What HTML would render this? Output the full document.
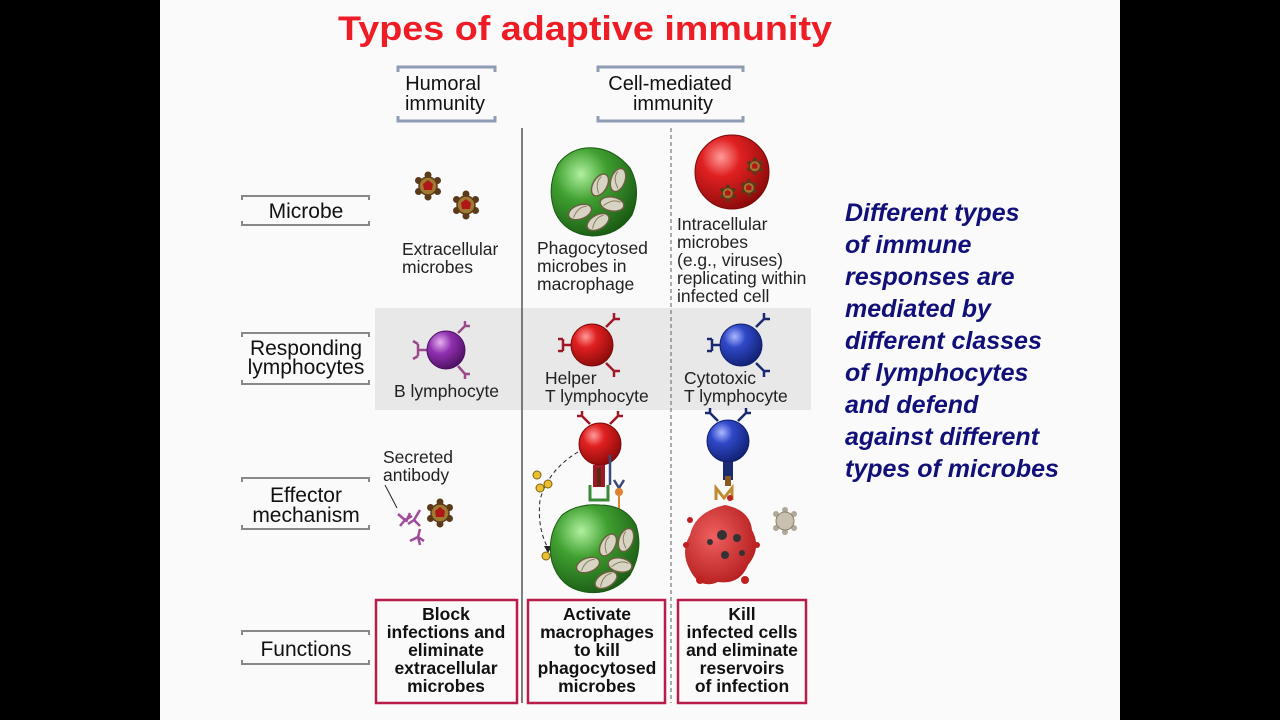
<!DOCTYPE html>
<html><head><meta charset="utf-8"><style>
html,body{margin:0;padding:0;background:#000;}
svg{display:block}
text{font-family:"Liberation Sans",sans-serif;}
</style></head><body>
<svg width="1280" height="720" viewBox="0 0 1280 720" xmlns="http://www.w3.org/2000/svg">
<defs>
<radialGradient id="gr" cx="0.35" cy="0.3" r="0.75"><stop offset="0" stop-color="#ff9a9a"/><stop offset="0.35" stop-color="#e02020"/><stop offset="1" stop-color="#8a0a0a"/></radialGradient>
<radialGradient id="gb" cx="0.35" cy="0.3" r="0.75"><stop offset="0" stop-color="#aab8ff"/><stop offset="0.35" stop-color="#3048c8"/><stop offset="1" stop-color="#102070"/></radialGradient>
<radialGradient id="gp" cx="0.35" cy="0.3" r="0.75"><stop offset="0" stop-color="#e6b0f0"/><stop offset="0.4" stop-color="#9030b0"/><stop offset="1" stop-color="#4a1060"/></radialGradient>
<radialGradient id="gg" cx="0.35" cy="0.3" r="0.75"><stop offset="0" stop-color="#b0f0a0"/><stop offset="0.4" stop-color="#40a030"/><stop offset="1" stop-color="#1a5a14"/></radialGradient>
<radialGradient id="gd" cx="0.4" cy="0.4" r="0.7"><stop offset="0" stop-color="#f06060"/><stop offset="1" stop-color="#b01818"/></radialGradient>
<g id="mic"><g fill="#5a3a1a"><circle cx="0" cy="-11" r="3.5"/><circle cx="9.5" cy="-5.5" r="3.5"/><circle cx="9.5" cy="5.5" r="3.5"/><circle cx="0" cy="11" r="3.5"/><circle cx="-9.5" cy="5.5" r="3.5"/><circle cx="-9.5" cy="-5.5" r="3.5"/></g><circle r="9" fill="#a07a30" stroke="#5a3a1a" stroke-width="1.5"/><polygon points="0,-6 5,-2 4,4 -4,4 -5,-2" fill="#b01818"/></g>
<g id="ov"><ellipse rx="12" ry="7" fill="#d8d4c4" stroke="#6a6040" stroke-width="1.5"/><path d="M-8,3 Q0,-6 8,-3" stroke="#8a8060" fill="none"/></g>
</defs>
<rect x="0" y="0" width="1280" height="720" fill="#000"/>
<rect x="160" y="0" width="960" height="720" fill="#fafafa"/>
<text x="585" y="40" font-size="34" font-weight="bold" fill="#ee1c25" text-anchor="middle" textLength="494" lengthAdjust="spacingAndGlyphs">Types of adaptive immunity</text>

<g stroke="#8e9cb4" stroke-width="3" fill="none">
<path d="M398,72 V67 H495 V72"/><path d="M398,116 V121 H495 V116"/>
<path d="M598,72 V67 H743 V72"/><path d="M598,116 V121 H743 V116"/>
</g>
<text font-size="20" fill="#111" text-anchor="middle"><tspan x="443" y="90">Humoral</tspan><tspan x="445" y="110">immunity</tspan></text>
<text font-size="20" fill="#111" text-anchor="middle"><tspan x="670" y="90">Cell-mediated</tspan><tspan x="673" y="110">immunity</tspan></text>

<rect x="375" y="308" width="436" height="102" fill="#e8e8e8"/>
<line x1="522" y1="128" x2="522" y2="703" stroke="#555" stroke-width="1.5"/>
<line x1="671" y1="128" x2="671" y2="703" stroke="#777" stroke-width="1.2" stroke-dasharray="4,3"/>

<g stroke="#888" stroke-width="2" fill="none">
<path d="M242,200 V196 H369 V200"/><path d="M242,221 V225 H369 V221"/>
<path d="M242,337 V333 H369 V337"/><path d="M242,380 V384 H369 V380"/>
<path d="M242,482 V478 H369 V482"/><path d="M242,525 V529 H369 V525"/>
<path d="M242,635 V631 H369 V635"/><path d="M242,660 V664 H369 V660"/>
</g>
<g font-size="21" fill="#111" text-anchor="middle">
<text x="306" y="218">Microbe</text>
<text x="306" y="355">Responding</text><text x="306" y="374">lymphocytes</text>
<text x="306" y="502">Effector</text><text x="306" y="522">mechanism</text>
<text x="306" y="656">Functions</text>
</g>

<use href="#mic" x="428" y="186"/><use href="#mic" x="466" y="205"/>
<g font-size="17.5" fill="#222">
<text x="402" y="255">Extracellular</text><text x="402" y="273">microbes</text>
<text x="537" y="254">Phagocytosed</text><text x="537" y="272">microbes in</text><text x="537" y="290">macrophage</text>
<text x="677" y="230">Intracellular</text><text x="677" y="248">microbes</text><text x="677" y="266">(e.g., viruses)</text><text x="677" y="284">replicating within</text><text x="677" y="302">infected cell</text>
</g>
<path d="M595,148 Q615,150 630,168 Q642,190 632,215 Q618,236 592,236 Q565,234 555,212 Q546,188 558,164 Q572,146 595,148Z" fill="url(#gg)" stroke="#1a5a14"/>
<use href="#ov" transform="translate(600,185) rotate(-60)"/><use href="#ov" transform="translate(618,180) rotate(-70)"/>
<use href="#ov" transform="translate(612,204) rotate(10)"/><use href="#ov" transform="translate(580,212) rotate(-20)"/><use href="#ov" transform="translate(598,222) rotate(-30)"/>
<circle cx="732" cy="172" r="37" fill="url(#gr)" stroke="#7a0a0a"/>
<g transform="scale(0.6)"><use href="#mic" x="1258" y="277"/><use href="#mic" x="1213" y="322"/><use href="#mic" x="1248" y="313"/></g>

<g stroke="#9a4a8a" stroke-width="2.5" fill="none">
<path d="M428,350 H418 M418,344 V356 M418,344 l-5,-3 M418,356 l-5,3"/>
<path d="M458,333 L465,326 M465,326 l5,0 M465,326 l0,-5"/>
<path d="M458,366 L465,374 M465,374 l5,0 M465,374 l0,5"/>
</g>
<circle cx="446" cy="350" r="19" fill="url(#gp)" stroke="#4a1060"/>
<text x="394" y="397" font-size="17.5" fill="#222">B lymphocyte</text>
<g stroke="#a01828" stroke-width="2.5" fill="none">
<path d="M573,345 H563 M563,339 V351 M563,339 h-5 M563,351 h-5"/>
<path d="M606,327 L614,319 M614,319 h6 M614,319 v-6"/>
<path d="M606,363 L614,371 M614,371 h6 M614,371 v6"/>
</g>
<circle cx="592" cy="345" r="21" fill="url(#gr)" stroke="#7a0a0a"/>
<text font-size="17.5" fill="#222"><tspan x="545" y="384">Helper</tspan><tspan x="545" y="402">T lymphocyte</tspan></text>
<g stroke="#1a2a70" stroke-width="2.5" fill="none">
<path d="M722,345 H712 M712,339 V351 M712,339 h-5 M712,351 h-5"/>
<path d="M756,327 L764,319 M764,319 h6 M764,319 v-6"/>
<path d="M756,363 L764,371 M764,371 h6 M764,371 v6"/>
</g>
<circle cx="741" cy="345" r="21" fill="url(#gb)" stroke="#102070"/>
<text font-size="17.5" fill="#222"><tspan x="684" y="384">Cytotoxic</tspan><tspan x="684" y="402">T lymphocyte</tspan></text>

<text font-size="17.5" fill="#222"><tspan x="383" y="463">Secreted</tspan><tspan x="383" y="481">antibody</tspan></text>
<line x1="385" y1="485" x2="397" y2="508" stroke="#222"/>
<g stroke="#a04a9a" stroke-width="2.5" fill="none">
<path d="M398,514 l7,6 l7,-4 M405,520 l-5,6"/>
<path d="M410,513 l-4,9 M420,510 l-6,10 l6,6 M414,520 l-6,4"/>
<path d="M410,541 l8,-4 l6,4 M418,537 l2,-8 M418,537 l2,8"/>
</g>
<use href="#mic" x="440" y="513"/>
<circle cx="600" cy="444" r="21" fill="url(#gr)" stroke="#7a0a0a"/>
<g stroke="#a01828" stroke-width="2.5" fill="none"><path d="M590,424 l-8,-8 m0,0 h-5 m5,0 v-5 M610,424 l8,-8 m0,0 h5 m-5,0 v-5"/></g>
<rect x="593" y="465" width="12" height="22" fill="#a01828"/><rect x="597" y="468" width="4" height="18" fill="#5a2a10"/>
<path d="M590,485 v15 h18 v-15" stroke="#3a8a3a" stroke-width="3" fill="none"/>
<path d="M610,455 v30 M614,480 l5,8 l5,-8" stroke="#3a4a7a" stroke-width="2.5" fill="none"/><circle cx="619" cy="492" r="4" fill="#e08030"/><line x1="619" y1="496" x2="619" y2="510" stroke="#e08030" stroke-width="2"/>
<path d="M578,452 Q548,470 540,500 Q537,528 548,548" stroke="#222" stroke-dasharray="4,3" fill="none"/>
<polygon points="544,546 552,546 548,553" fill="#222"/>
<g fill="#e8c030" stroke="#806010"><circle cx="537" cy="475" r="4"/><circle cx="548" cy="484" r="4"/><circle cx="540" cy="488" r="4"/><circle cx="546" cy="556" r="4"/></g>
<path d="M600,505 Q625,505 636,525 Q644,550 630,575 Q612,596 585,592 Q560,588 552,562 Q546,535 562,515 Q578,503 600,505Z" fill="url(#gg)" stroke="#1a5a14"/>
<use href="#ov" transform="translate(608,545) rotate(-60)"/><use href="#ov" transform="translate(626,540) rotate(-70)"/>
<use href="#ov" transform="translate(620,565) rotate(10)"/><use href="#ov" transform="translate(588,565) rotate(-20)"/><use href="#ov" transform="translate(606,580) rotate(-30)"/>
<circle cx="728" cy="441" r="21" fill="url(#gb)" stroke="#102070"/>
<g stroke="#1a2a70" stroke-width="2.5" fill="none"><path d="M718,421 l-8,-8 m0,0 h-5 m5,0 v-5 M738,421 l8,-8 m0,0 h5 m-5,0 v-5"/></g>
<rect x="723" y="462" width="10" height="18" fill="#1a2a70"/><rect x="725" y="476" width="6" height="10" fill="#8a5a20"/>
<path d="M716,500 v-12 l8,10 l8,-10 v12" stroke="#c08a30" stroke-width="3" fill="none"/>
<path d="M725,505 Q750,510 752,530 Q762,548 748,565 Q740,585 718,582 Q700,590 690,570 Q680,552 690,535 Q695,512 725,505Z" fill="url(#gd)"/>
<g fill="#c02020"><circle cx="690" cy="520" r="3"/><circle cx="686" cy="545" r="3"/><circle cx="757" cy="545" r="3"/><circle cx="700" cy="580" r="4"/><circle cx="745" cy="580" r="4"/><circle cx="730" cy="498" r="3"/></g>
<g fill="#333"><circle cx="722" cy="535" r="5"/><circle cx="737" cy="538" r="4"/><circle cx="725" cy="555" r="4"/><circle cx="710" cy="542" r="3"/><circle cx="742" cy="553" r="3"/></g>
<g fill="#b0a898"><circle cx="785" cy="510" r="3"/><circle cx="794" cy="514" r="3"/><circle cx="794" cy="528" r="3"/><circle cx="785" cy="532" r="3"/><circle cx="776" cy="528" r="3"/><circle cx="776" cy="514" r="3"/></g>
<circle cx="785" cy="521" r="9" fill="#c8c0b0" stroke="#8a8070"/>

<g fill="none" stroke="#b81c48" stroke-width="2.5">
<rect x="376" y="600" width="141" height="103"/><rect x="528" y="600" width="137" height="103"/><rect x="678" y="600" width="128" height="103"/>
</g>
<g font-size="17.5" font-weight="bold" fill="#111" text-anchor="middle">
<text x="446" y="620">Block</text><text x="446" y="638">infections and</text><text x="446" y="656">eliminate</text><text x="446" y="674">extracellular</text><text x="446" y="692">microbes</text>
<text x="597" y="620">Activate</text><text x="597" y="638">macrophages</text><text x="597" y="656">to kill</text><text x="597" y="674">phagocytosed</text><text x="597" y="692">microbes</text>
<text x="742" y="620">Kill</text><text x="742" y="638">infected cells</text><text x="742" y="656">and eliminate</text><text x="742" y="674">reservoirs</text><text x="742" y="692">of infection</text>
</g>

<g font-size="25" font-weight="bold" font-style="italic" fill="#101078">
<text x="845" y="221">Different types</text>
<text x="845" y="253">of immune</text>
<text x="845" y="285">responses are</text>
<text x="845" y="317">mediated by</text>
<text x="845" y="349">different classes</text>
<text x="845" y="381">of lymphocytes</text>
<text x="845" y="413">and defend</text>
<text x="845" y="445">against different</text>
<text x="845" y="477">types of microbes</text>
</g>
</svg>
</body></html>
